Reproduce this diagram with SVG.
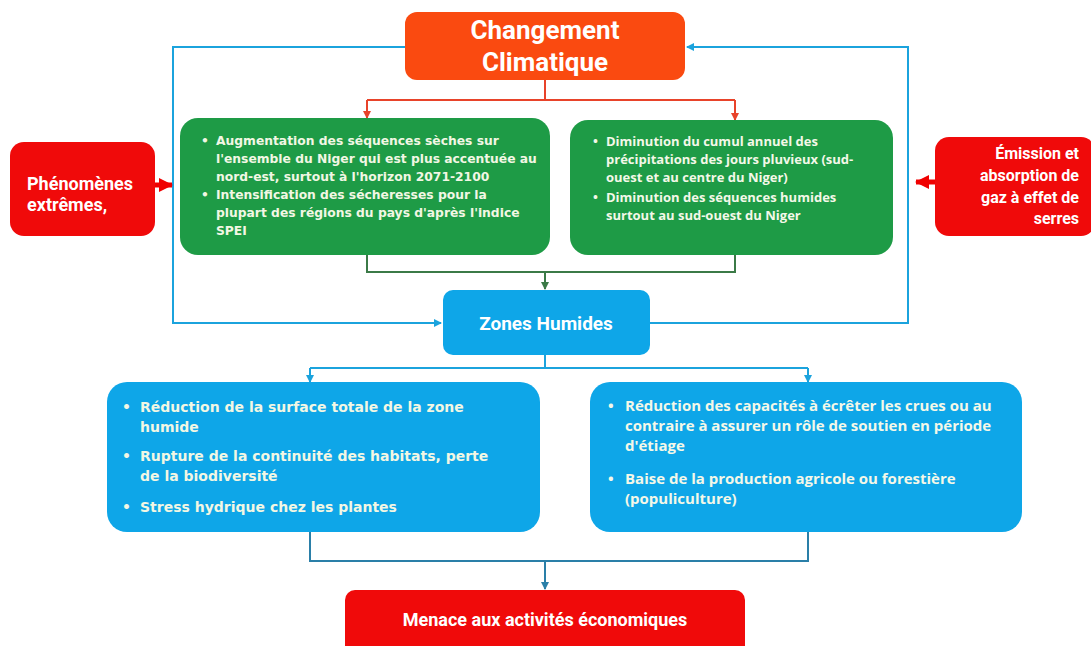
<svg xmlns="http://www.w3.org/2000/svg" width="1091" height="646" viewBox="0 0 1091 646">
<defs>
<style>
.t{font-family:Roboto,"Liberation Sans",sans-serif;font-weight:bold;fill:#FFFFFF}
.o{font-family:"Open Sans","Liberation Sans",sans-serif;font-weight:bold;fill:#F4F8E8}
.g{font-family:"DejaVu Sans","Liberation Sans",sans-serif;font-weight:bold;fill:#F2F7E4}
.bl{fill:none;stroke:#1BA3DD;stroke-width:2}
.rd{fill:none;stroke:#E8432A;stroke-width:2}
.gr{fill:none;stroke:#3B7A47;stroke-width:2}
.bk{fill:none;stroke:#2A7FA8;stroke-width:2}
</style>
<marker id="ab" markerWidth="8" markerHeight="8" refX="7" refY="4" orient="auto" markerUnits="userSpaceOnUse"><path d="M0,0 L8,4 L0,8 z" fill="#1BA3DD"/></marker>
<marker id="ar" markerWidth="8" markerHeight="8" refX="7" refY="4" orient="auto" markerUnits="userSpaceOnUse"><path d="M0,0 L8,4 L0,8 z" fill="#E8432A"/></marker>
<marker id="ag" markerWidth="8" markerHeight="8" refX="7" refY="4" orient="auto" markerUnits="userSpaceOnUse"><path d="M0,0 L8,4 L0,8 z" fill="#3B7A47"/></marker>
<marker id="ak" markerWidth="8" markerHeight="8" refX="7" refY="4" orient="auto" markerUnits="userSpaceOnUse"><path d="M0,0 L8,4 L0,8 z" fill="#2A7FA8"/></marker>
<marker id="ax" markerWidth="14" markerHeight="14" refX="13" refY="7" orient="auto" markerUnits="userSpaceOnUse"><path d="M0,0 L14,7 L0,14 z" fill="#F00000"/></marker>
</defs>
<rect width="1091" height="646" fill="#FFFFFF"/>
<g id="connectors">
<path class="bl" d="M405,47 H173 V323 H441" marker-end="url(#ab)"/>
<path class="bl" d="M650,323 H908 V47 H687" marker-end="url(#ab)"/>
<path class="rd" d="M545,80 V100 M367,100 H735"/>
<path class="rd" d="M367,100 V118" marker-end="url(#ar)"/>
<path class="rd" d="M735,100 V120" marker-end="url(#ar)"/>
<path class="gr" d="M367,255 V272 H735 V255"/>
<path class="gr" d="M545,272 V289" marker-end="url(#ag)"/>
<path class="bl" d="M545,355 V368 M310,368 H808"/>
<path class="bl" d="M310,368 V382" marker-end="url(#ab)"/>
<path class="bl" d="M808,368 V382" marker-end="url(#ab)"/>
<path class="bk" d="M310,532 V561 H808 V532"/>
<path class="bk" d="M545,561 V589" marker-end="url(#ak)"/>
<path d="M155,185 H172" stroke="#F00000" stroke-width="5" marker-end="url(#ax)"/>
<path d="M935,182 H916" stroke="#F00000" stroke-width="5" marker-end="url(#ax)"/>
</g>
<g id="changement">
<rect x="405" y="12" width="280" height="68" rx="12" fill="#FA4A10"/>
<text class="t" x="545" y="39" font-size="26" text-anchor="middle">Changement</text>
<text class="t" x="545" y="71" font-size="26" text-anchor="middle">Climatique</text>
</g>
<g id="phenomenes">
<rect x="10" y="142" width="145" height="94" rx="14" fill="#F00A0A"/>
<text class="t" x="27" y="190" font-size="18">Phénomènes</text>
<text class="t" x="27" y="211" font-size="18">extrêmes,</text>
</g>
<g id="emission">
<rect x="935" y="137" width="160" height="99" rx="14" fill="#F00A0A"/>
<text class="t" x="1079" y="159" font-size="16" text-anchor="end">Émission et</text>
<text class="t" x="1079" y="181" font-size="16" text-anchor="end">absorption de</text>
<text class="t" x="1079" y="203" font-size="16" text-anchor="end">gaz à effet de</text>
<text class="t" x="1079" y="224" font-size="16" text-anchor="end">serres</text>
</g>
<g id="vert-gauche">
<rect x="180" y="118" width="370" height="137" rx="18" fill="#1E9B46"/>
<g class="g" font-size="12.3">
<text x="201" y="145">•</text>
<text x="216" y="145">Augmentation des séquences sèches sur</text>
<text x="216" y="163">l'ensemble du Niger qui est plus accentuée au</text>
<text x="216" y="181">nord-est, surtout à l'horizon 2071-2100</text>
<text x="201" y="199">•</text>
<text x="216" y="199">Intensification des sécheresses pour la</text>
<text x="216" y="217">plupart des régions du pays d'après l'indice</text>
<text x="216" y="235">SPEI</text>
</g>
</g>
<g id="vert-droite">
<rect x="570" y="120" width="323" height="135" rx="18" fill="#1E9B46"/>
<g class="o" font-size="13">
<text x="593" y="146">•</text>
<text x="606" y="146">Diminution du cumul annuel des</text>
<text x="606" y="164">précipitations des jours pluvieux (sud-</text>
<text x="606" y="182">ouest et au centre du Niger)</text>
<text x="593" y="202">•</text>
<text x="606" y="202">Diminution des séquences humides</text>
<text x="606" y="220">surtout au sud-ouest du Niger</text>
</g>
</g>
<g id="zones-humides">
<rect x="443" y="290" width="207" height="65" rx="10" fill="#0EA6E8"/>
<text class="t" x="546" y="330" font-size="19" text-anchor="middle">Zones Humides</text>
</g>
<g id="bleu-gauche">
<rect x="107" y="382" width="433" height="150" rx="20" fill="#0EA6E8"/>
<g class="g" font-size="14">
<text x="122" y="412">•</text>
<text x="140" y="412">Réduction de la surface totale de la zone</text>
<text x="140" y="432">humide</text>
<text x="122" y="461">•</text>
<text x="140" y="461">Rupture de la continuité des habitats, perte</text>
<text x="140" y="481">de la biodiversité</text>
<text x="122" y="512">•</text>
<text x="140" y="512">Stress hydrique chez les plantes</text>
</g>
</g>
<g id="bleu-droite">
<rect x="590" y="382" width="432" height="150" rx="20" fill="#0EA6E8"/>
<g class="o" font-size="15">
<text x="608" y="411">•</text>
<text x="625" y="411">Réduction des capacités à écrêter les crues ou au</text>
<text x="625" y="431">contraire à assurer un rôle de soutien en période</text>
<text x="625" y="451">d'étiage</text>
<text x="608" y="484">•</text>
<text x="625" y="484">Baise de la production agricole ou forestière</text>
<text x="625" y="504">(populiculture)</text>
</g>
</g>
<g id="menace">
<rect x="345" y="590" width="400" height="70" rx="10" fill="#F00A0A"/>
<text class="t" x="545" y="626" font-size="18" text-anchor="middle">Menace aux activités économiques</text>
</g>
</svg>
